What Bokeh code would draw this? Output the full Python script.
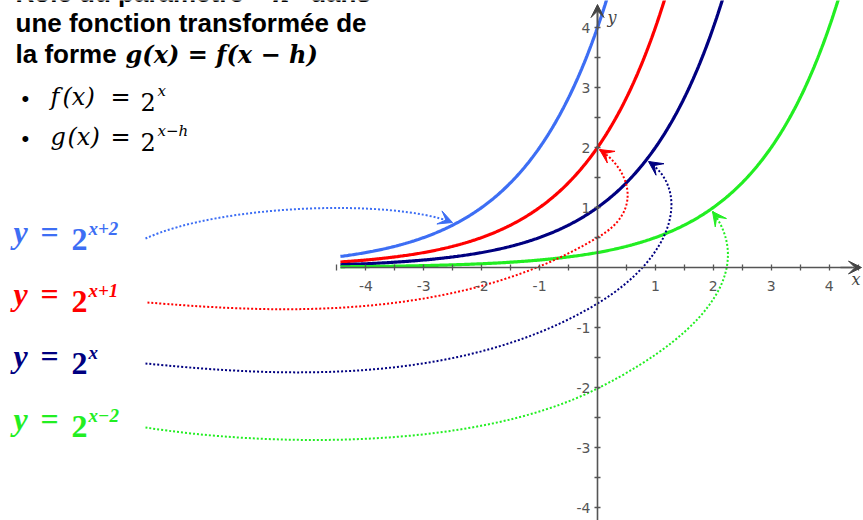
import numpy as np
from bokeh.plotting import figure
from bokeh.models import Range1d, LinearAxis, FixedTicker, Label, Arrow, VeeHead
from bokeh.embed import file_html
from bokeh.resources import INLINE

# ---------------- data ----------------
shifts = [-2, -1, 0, 2]                      # y = 2^(x - h)
exponents = ["x+2", "x+1", "x", "x−2"]       # label superscripts
colors = ["#3d6ef4", "#ff0000", "#000080", "#22ee22"]
x_ticks = [-4, -3, -2, -1, 1, 2, 3, 4]
x_tick_labels = ["-4", "-3", "-2", "-1", "1", "2", "3", "4"]
y_ticks = [-4, -3, -2, -1, 1, 2, 3, 4]
y_tick_labels = ["-4", "-3", "-2", "-1", "1", "2", "3", "4"]
minor_ticks = [-4.5, -3.5, -2.5, -1.5, -0.5, 0.5, 1.5, 2.5, 3.5, 4.5]
x_start_curve = -4.44
title_lines = ["Rôle du paramètre « ", "h", " » dans",
               "une fonction transformée de",
               "la forme ", "g(x) = f(x − h)"]
bullets = [("f", "(x)", "=", "2", "x"), ("g", "(x)", "=", "2", "x−h")]

# ---------------- layout helpers (picture pixels -> data) ----------------
W, H = 863, 520
OX, OY = 597.0, 267.0
SX, SY = 57.9, 60.0
def X(px): return (px - OX) / SX
def Y(py): return (OY - py) / SY

p = figure(width=W, height=H, x_range=Range1d(X(0), X(W)),
           y_range=Range1d(Y(H), Y(0)), output_backend="svg",
           toolbar_location=None, min_border=0, x_axis_type=None,
           y_axis_type=None, title=None)
p.outline_line_color = None
p.background_fill_color = "white"
p.border_fill_color = "white"

AX = "#555555"
common = dict(fixed_location=0, axis_line_color=AX, axis_line_width=1.6,
              major_tick_in=3, major_tick_out=3, minor_tick_in=3, minor_tick_out=3,
              major_tick_line_color=AX, minor_tick_line_color=AX,
              major_tick_line_width=1.3, minor_tick_line_width=1.3,
              major_label_text_font="DejaVu Sans", major_label_text_font_size="14px",
              major_label_text_color=AX)
xaxis = LinearAxis(ticker=FixedTicker(ticks=x_ticks, minor_ticks=minor_ticks),
                   bounds=(x_start_curve, X(852)),
                   major_label_overrides={t: s for t, s in zip(x_ticks, x_tick_labels)},
                   major_label_standoff=10, **common)
yaxis = LinearAxis(ticker=FixedTicker(ticks=y_ticks, minor_ticks=minor_ticks),
                   bounds=(Y(520), Y(8)),
                   major_label_overrides={t: s for t, s in zip(y_ticks, y_tick_labels)},
                   major_label_standoff=4, **common)
p.add_layout(xaxis, "below")
p.add_layout(yaxis, "left")

# axis arrow heads
p.add_layout(Arrow(end=VeeHead(size=13, fill_color="#444444", line_color="#444444"),
                   x_start=X(840), y_start=0, x_end=X(861), y_end=0,
                   line_color=AX, line_width=1.6))
p.add_layout(Arrow(end=VeeHead(size=13, fill_color="#444444", line_color="#444444"),
                   x_start=0, y_start=Y(25), x_end=0, y_end=Y(4),
                   line_color=AX, line_width=1.6))
p.add_layout(Label(x=X(860), y=Y(288), text="x", text_align="right",
                   text_font="DejaVu Serif", text_font_style="italic",
                   text_font_size="16px", text_color="#444444"))
p.add_layout(Label(x=X(607), y=Y(26), text="y",
                   text_font="DejaVu Serif", text_font_style="italic",
                   text_font_size="16px", text_color="#444444"))

# ---------------- curves ----------------
xs = np.linspace(x_start_curve, 4.5, 400)
for h, c in zip(shifts, colors):
    p.line(xs, 2.0 ** (xs - h), line_color=c, line_width=3.2)

# ---------------- dotted pointers (picture-pixel waypoints) ----------------
pointer_paths = [
    [((145, 238), (220, 204), (390, 198), (452, 222))],
    [((147, 302), (250, 310), (447, 327), (597, 237)),
     ((597, 237), (645, 210), (628, 168), (599, 149))],
    [((145, 363), (250, 373), (450, 392), (597, 303)),
     ((597, 303), (675, 256), (690, 190), (648, 161))],
    [((145, 427), (260, 445), (470, 452), (597, 388)),
     ((597, 388), (720, 326), (750, 262), (712, 211))],
]
for segs, c in zip(pointer_paths, colors):
    p.bezier(x0=[X(s[0][0]) for s in segs], y0=[Y(s[0][1]) for s in segs],
             cx0=[X(s[1][0]) for s in segs], cy0=[Y(s[1][1]) for s in segs],
             cx1=[X(s[2][0]) for s in segs], cy1=[Y(s[2][1]) for s in segs],
             x1=[X(s[3][0]) for s in segs], y1=[Y(s[3][1]) for s in segs],
             line_color=c, line_width=2, line_dash="2 2")
    last = segs[-1]
    p.add_layout(Arrow(end=VeeHead(size=14, fill_color=c, line_color=c),
                       x_start=X(last[2][0]), y_start=Y(last[2][1]),
                       x_end=X(last[3][0]), y_end=Y(last[3][1]),
                       line_alpha=0))

# ---------------- series labels ----------------
row_base = [249, 311, 373, 436]
for base, sup, c in zip(row_base, exponents, colors):
    p.add_layout(Label(x=X(13), y=Y(base), text="y", text_font="Liberation Serif",
                       text_font_style="bold italic", text_font_size="32px", text_color=c))
    p.add_layout(Label(x=X(40), y=Y(base), text="=", text_font="Liberation Serif",
                       text_font_style="bold", text_font_size="32px", text_color=c))
    p.add_layout(Label(x=X(71), y=Y(base), text="2", text_font="Liberation Serif",
                       text_font_style="bold", text_font_size="32px", text_color=c))
    p.add_layout(Label(x=X(88), y=Y(base - 11), text=sup, text_font="Liberation Serif",
                       text_font_style="bold italic", text_font_size="19px", text_color=c))

# ---------------- title ----------------
TS = dict(text_font="Liberation Sans", text_font_style="bold", text_font_size="26px",
          text_color="black")
MS = dict(text_font="DejaVu Serif", text_font_style="bold italic", text_font_size="24px",
          text_color="black")
p.add_layout(Label(x=X(15), y=Y(7), text=title_lines[0], **TS))
p.add_layout(Label(x=X(272), y=Y(7), text=title_lines[1], **MS))
p.add_layout(Label(x=X(288), y=Y(7), text=title_lines[2], **TS))
p.add_layout(Label(x=X(15), y=Y(37), text=title_lines[3], **TS))
p.add_layout(Label(x=X(15), y=Y(68), text=title_lines[4], **TS))
p.add_layout(Label(x=X(125), y=Y(68), text=title_lines[5], **MS))

# bullets
BS = dict(text_font="DejaVu Serif", text_font_style="italic", text_font_size="24px",
          text_color="black")
RS = dict(text_font="DejaVu Serif", text_font_size="24px", text_color="black")
for (fn, arg, eq, two, sup), base, arg_px in zip(bullets, [110, 150], [62, 67]):
    p.add_layout(Label(x=X(21), y=Y(base), text="•", text_font="Liberation Sans",
                       text_font_size="22px", text_color="black"))
    p.add_layout(Label(x=X(50), y=Y(base), text=fn, **BS))
    p.add_layout(Label(x=X(arg_px), y=Y(base), text=arg, **BS))
    p.add_layout(Label(x=X(110), y=Y(base), text=eq, **RS))
    p.add_layout(Label(x=X(140), y=Y(base), text=two, **RS))
    p.add_layout(Label(x=X(157), y=Y(base - 11), text=sup, text_font="DejaVu Serif",
                       text_font_style="italic", text_font_size="15px", text_color="black"))

open("out.html", "w").write(file_html(p, INLINE))
